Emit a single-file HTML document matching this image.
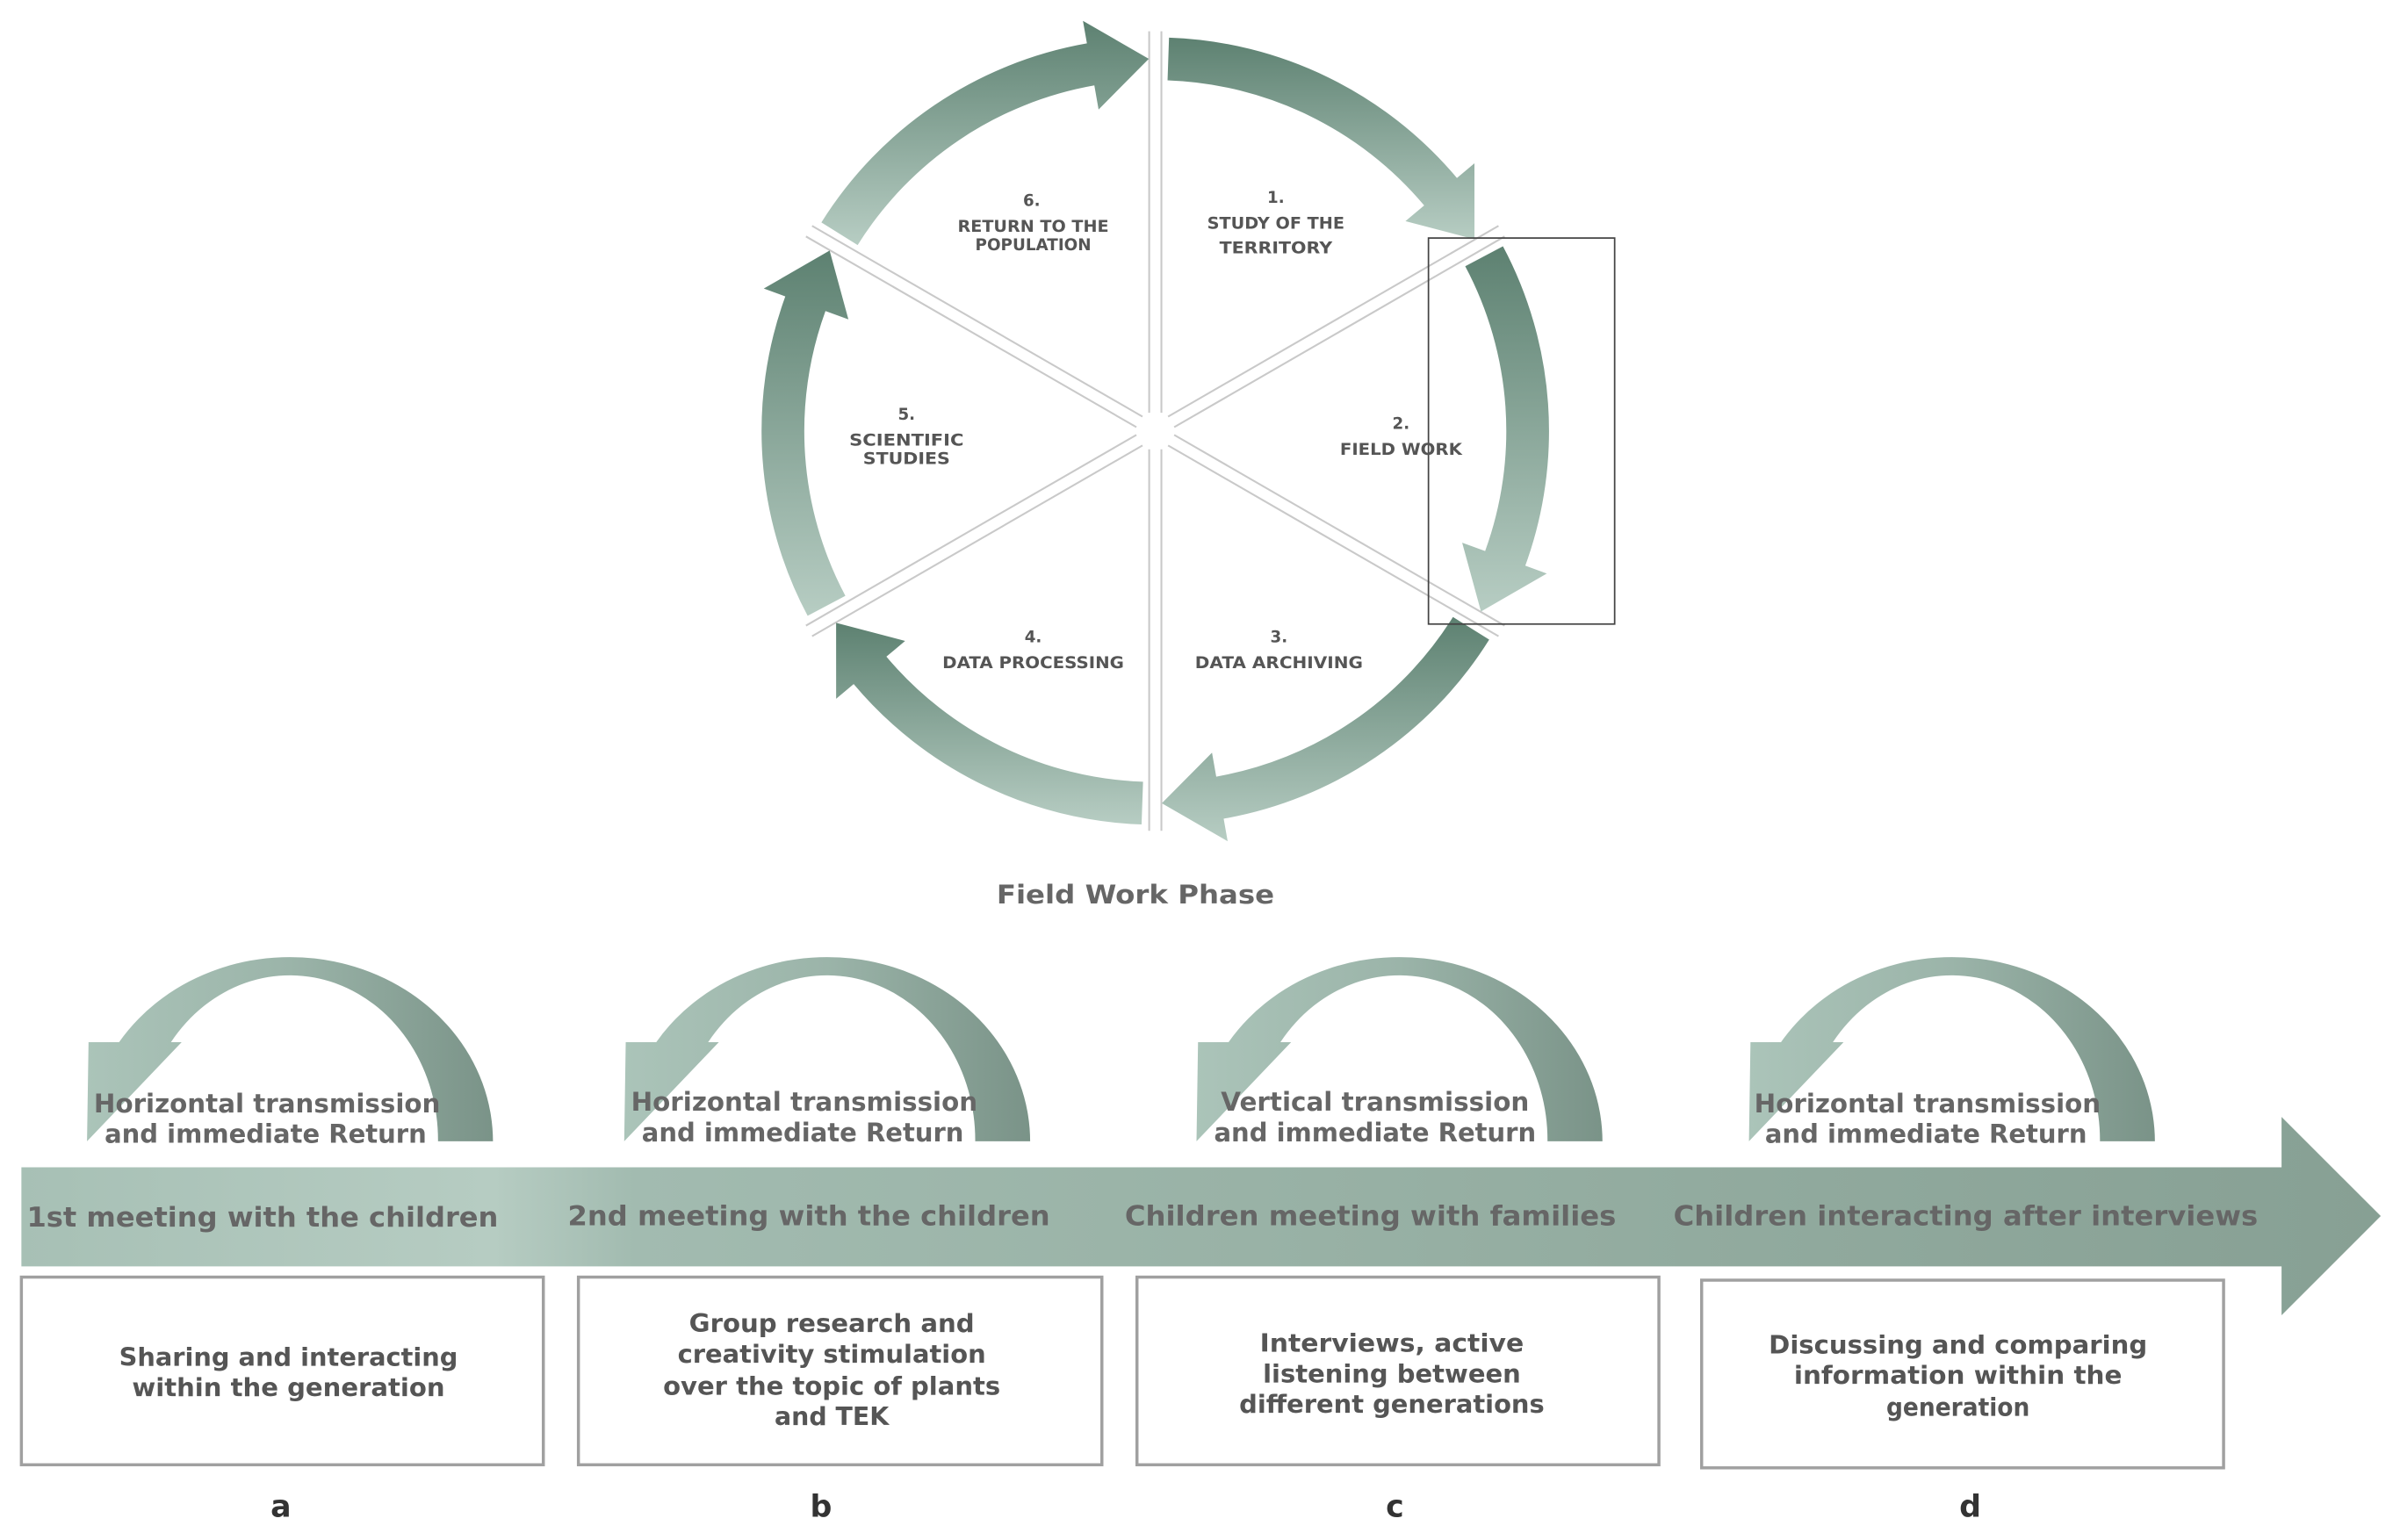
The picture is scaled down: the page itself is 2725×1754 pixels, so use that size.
<!DOCTYPE html>
<html><head><meta charset="utf-8"><style>
html,body{margin:0;padding:0;background:#fff;}
svg{display:block;}
text{font-family:"DejaVu Sans","Liberation Sans",sans-serif;font-weight:bold;}
</style></head><body>
<svg id="s" width="2725" height="1754" viewBox="0 0 1568 1009.3" xmlns="http://www.w3.org/2000/svg">
<defs>
<linearGradient id="cg" x1="0" y1="0" x2="0" y2="1"><stop offset="0" stop-color="#5d8171"/><stop offset="1" stop-color="#b7cdc3"/></linearGradient>
<linearGradient id="bg" gradientUnits="userSpaceOnUse" x1="14" y1="0" x2="1560" y2="0">
<stop offset="0" stop-color="#a7c0b5"/><stop offset="0.2" stop-color="#b6ccc2"/><stop offset="0.26" stop-color="#a2bbb0"/><stop offset="0.55" stop-color="#98b1a5"/><stop offset="1" stop-color="#87a094"/></linearGradient>
<linearGradient id="ag" x1="0" y1="0" x2="1" y2="0"><stop offset="0" stop-color="#abc4b9"/><stop offset="0.5" stop-color="#9bb4a9"/><stop offset="1" stop-color="#7a9388"/></linearGradient>
</defs>
<g id="spokes" stroke="#c9c9c9" stroke-width="1.2"></g>
<g id="arrows"></g>
<rect x="936" y="156" width="122" height="253" fill="none" stroke="#444" stroke-width="1"/>
<g fill="#555" text-anchor="middle" font-size="10.5">
<text x="676" y="135">6.</text><text x="677" y="152" textLength="99" lengthAdjust="spacingAndGlyphs">RETURN TO THE</text><text x="677" y="164" textLength="76" lengthAdjust="spacingAndGlyphs">POPULATION</text>
<text x="836" y="133">1.</text><text x="836" y="150" textLength="90" lengthAdjust="spacingAndGlyphs">STUDY OF THE</text><text x="836" y="166" textLength="74" lengthAdjust="spacingAndGlyphs">TERRITORY</text>
<text x="918" y="281">2.</text><text x="918" y="298" textLength="80" lengthAdjust="spacingAndGlyphs">FIELD WORK</text>
<text x="838" y="421">3.</text><text x="838" y="438" textLength="110" lengthAdjust="spacingAndGlyphs">DATA ARCHIVING</text>
<text x="677" y="421">4.</text><text x="677" y="438" textLength="119" lengthAdjust="spacingAndGlyphs">DATA PROCESSING</text>
<text x="594" y="275">5.</text><text x="594" y="292" textLength="75" lengthAdjust="spacingAndGlyphs">SCIENTIFIC</text><text x="594" y="304" textLength="57" lengthAdjust="spacingAndGlyphs">STUDIES</text>
</g>
<text x="744" y="592" fill="#666" font-size="17" text-anchor="middle" textLength="182" lengthAdjust="spacingAndGlyphs">Field Work Phase</text>
<polygon points="14,765 1495,765 1495,732 1560,797 1495,862 1495,830 14,830" fill="url(#bg)"/>
<g id="curves"></g>
<g fill="#666" text-anchor="middle" font-size="17">
<text x="175" y="729" textLength="227" lengthAdjust="spacingAndGlyphs">Horizontal transmission</text><text x="174" y="749" textLength="211" lengthAdjust="spacingAndGlyphs">and immediate Return</text>
<text x="527" y="728" textLength="227" lengthAdjust="spacingAndGlyphs">Horizontal transmission</text><text x="526" y="748" textLength="211" lengthAdjust="spacingAndGlyphs">and immediate Return</text>
<text x="901" y="728" textLength="202" lengthAdjust="spacingAndGlyphs">Vertical transmission</text><text x="901" y="748" textLength="211" lengthAdjust="spacingAndGlyphs">and immediate Return</text>
<text x="1263" y="729" textLength="227" lengthAdjust="spacingAndGlyphs">Horizontal transmission</text><text x="1262" y="749" textLength="211" lengthAdjust="spacingAndGlyphs">and immediate Return</text>
</g>
<g fill="#666" text-anchor="middle" font-size="18">
<text x="172" y="804" textLength="309" lengthAdjust="spacingAndGlyphs">1st meeting with the children</text>
<text x="530" y="803" textLength="316" lengthAdjust="spacingAndGlyphs">2nd meeting with the children</text>
<text x="898" y="803" textLength="322" lengthAdjust="spacingAndGlyphs">Children meeting with families</text>
<text x="1288" y="803" textLength="383" lengthAdjust="spacingAndGlyphs">Children interacting after interviews</text>
</g>
<g fill="#fff" stroke="#a0a0a0" stroke-width="2">
<rect x="14" y="837" width="342" height="123"/><rect x="379" y="837" width="343" height="123"/>
<rect x="745" y="837" width="342" height="123"/><rect x="1115" y="839" width="342" height="123"/>
</g>
<g fill="#555" text-anchor="middle" font-size="16.5">
<text x="189" y="895" textLength="222" lengthAdjust="spacingAndGlyphs">Sharing and interacting</text>
<text x="189" y="915" textLength="205" lengthAdjust="spacingAndGlyphs">within the generation</text>
<text x="545" y="873" textLength="187" lengthAdjust="spacingAndGlyphs">Group research and</text>
<text x="545" y="893" textLength="202" lengthAdjust="spacingAndGlyphs">creativity stimulation</text>
<text x="545" y="914" textLength="221" lengthAdjust="spacingAndGlyphs">over the topic of plants</text>
<text x="545" y="934" textLength="75" lengthAdjust="spacingAndGlyphs">and TEK</text>
<text x="912" y="886" textLength="173" lengthAdjust="spacingAndGlyphs">Interviews, active</text>
<text x="912" y="906" textLength="169" lengthAdjust="spacingAndGlyphs">listening between</text>
<text x="912" y="926" textLength="200" lengthAdjust="spacingAndGlyphs">different generations</text>
<text x="1283" y="887" textLength="248" lengthAdjust="spacingAndGlyphs">Discussing and comparing</text>
<text x="1283" y="907" textLength="215" lengthAdjust="spacingAndGlyphs">information within the</text>
<text x="1283" y="928" textLength="94" lengthAdjust="spacingAndGlyphs">generation</text>
</g>
<g fill="#333" text-anchor="middle" font-size="20">
<text x="184" y="994">a</text><text x="538" y="994">b</text><text x="914" y="994">c</text><text x="1291" y="994">d</text>
</g>
</svg>
<script>
(function(){
var NS="http://www.w3.org/2000/svg",cx=757,cy=282.5;
function P(r,a){a=a*Math.PI/180;return (cx+r*Math.sin(a)).toFixed(2)+","+(cy-r*Math.cos(a)).toFixed(2);}
var sp=document.getElementById("spokes");
for(var k=0;k<6;k++){var a=k*60,rad=a*Math.PI/180,nx=Math.cos(rad),ny=Math.sin(rad);
for(var s=-1;s<=1;s+=2){var o=4*s,l=document.createElementNS(NS,"line");
var x1=cx+12*Math.sin(rad)+o*nx,y1=cy-12*Math.cos(rad)+o*ny,x2=cx+262*Math.sin(rad)+o*nx,y2=cy-262*Math.cos(rad)+o*ny;
l.setAttribute("x1",x1);l.setAttribute("y1",y1);l.setAttribute("x2",x2);l.setAttribute("y2",y2);sp.appendChild(l);}}
var ar=document.getElementById("arrows"),ro=258,ri=230,rm=244,wo=273,wi=214;
for(var k=0;k<6;k++){var t=60*k+2,b=60*k+50,tp=60*k+59;
var d="M"+P(ro,t)+" A"+ro+" "+ro+" 0 0 1 "+P(ro,b)+" L"+P(wo,b)+" L"+P(rm,tp)+" L"+P(wi,b)+" L"+P(ri,b)+" A"+ri+" "+ri+" 0 0 0 "+P(ri,t)+" Z";
var p=document.createElementNS(NS,"path");p.setAttribute("d",d);p.setAttribute("fill","url(#cg)");ar.appendChild(p);}
var cv=document.getElementById("curves"),offs=[0,352,727,1089];
offs.forEach(function(dx){var p=document.createElementNS(NS,"path");
p.setAttribute("d","M323,748 A133 121 0 0 0 78,683 L58,683 L57,748 L119,683 L112,683 A97 108 0 0 1 287,748 Z");
p.setAttribute("transform","translate("+dx+",0)");p.setAttribute("fill","url(#ag)");cv.appendChild(p);});
})();
</script>
</body></html>
